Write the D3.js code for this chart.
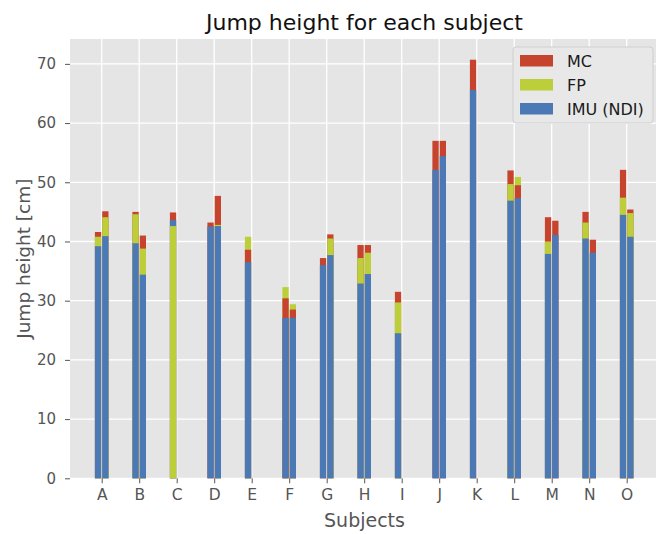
<!DOCTYPE html>
<html>
<head>
<meta charset="utf-8">
<script src="https://cdn.jsdelivr.net/npm/d3@7"></script>
<style>
  html, body { margin: 0; padding: 0; background: #ffffff; }
  svg { display: block; font-family: "DejaVu Sans", sans-serif; }
</style>
</head>
<body>
<svg id="chart" width="656" height="534"></svg>
<script>
// ---- data ----
const subjects = ["A","B","C","D","E","F","G","H","I","J","K","L","M","N","O"];
// trial 1 (left bar)
const imu1 = [39.2, 39.7, 43.6, 42.5, 36.5, 27.1, 36.0, 32.9, 24.5, 52.1, 65.6, 46.9, 37.9, 40.5, 44.5];
const fp1  = [40.8, 44.6, 42.6, null, 40.8, 32.3, null, 37.2, 29.7, null, null, 49.7, 40.0, 43.2, 47.4];
const mc1  = [41.6, 45.0, 44.9, 43.2, 38.6, 30.4, 37.2, 39.4, 31.5, 57.0, 70.7, 52.0, 44.1, 45.0, 52.1];
// trial 2 (right bar)
const imu2 = [40.9, 34.4, null, 42.6, null, 27.1, 37.7, 34.5, null, 54.4, null, 47.3, 41.1, 38.1, 40.8];
const fp2  = [44.1, 38.8, null, 42.8, null, 29.4, 40.5, 38.1, null, null, null, 50.9, null, null, 44.8];
const mc2  = [45.1, 41.0, null, 47.7, null, 28.5, 41.2, 39.4, null, 57.0, null, 49.5, 43.5, 40.3, 45.4];
const yTicks = [0, 10, 20, 30, 40, 50, 60, 70];
const seriesNames = ["MC", "FP", "IMU (NDI)"];

const colors = { "MC": "#c6432e", "FP": "#bccf3a", "IMU (NDI)": "#4a79b6" };

// ---- layout ----
const svg = d3.select("#chart");
const plot = { left: 70, right: 659, top: 39, bottom: 478.3 };

const x = d3.scalePoint().domain(subjects).range([101.7, 626.7]);
const y = d3.scaleLinear().domain([0, 74.2]).range([plot.bottom, plot.top]);

// background
svg.append("rect").attr("x", plot.left).attr("y", plot.top)
  .attr("width", plot.right - plot.left).attr("height", plot.bottom - plot.top)
  .attr("fill", "#e5e5e5");

// grid
const grid = svg.append("g");
grid.selectAll("line.h").data(yTicks).enter().append("line")
  .attr("x1", plot.left).attr("x2", plot.right)
  .attr("y1", d => y(d)).attr("y2", d => y(d))
  .attr("stroke", "#ffffff").attr("stroke-width", 1.3);
grid.selectAll("line.v").data(subjects).enter().append("line")
  .attr("x1", d => x(d)).attr("x2", d => x(d))
  .attr("y1", plot.top).attr("y2", plot.bottom)
  .attr("stroke", "#ffffff").attr("stroke-width", 1.3);

// bars: each measure drawn from 0, tallest behind
const barW = 6.3;
const trials = [
  { off: -0.5 - barW, vals: { "MC": mc1, "FP": fp1, "IMU (NDI)": imu1 } },
  { off: 0.5,         vals: { "MC": mc2, "FP": fp2, "IMU (NDI)": imu2 } }
];
const barsG = svg.append("g");
subjects.forEach((s, i) => {
  trials.forEach(t => {
    const segs = seriesNames
      .map(n => ({ name: n, v: t.vals[n][i] }))
      .filter(d => d.v !== null)
      .sort((a, b) => b.v - a.v);
    barsG.selectAll(null).data(segs).enter().append("rect")
      .attr("x", x(s) + t.off)
      .attr("width", barW)
      .attr("y", d => y(d.v))
      .attr("height", d => y(0) - y(d.v))
      .attr("fill", d => colors[d.name]);
  });
});

// y axis
const yAxis = d3.axisLeft(y).tickValues(yTicks).tickSize(5).tickPadding(9);
const yg = svg.append("g").attr("transform", `translate(${plot.left},0)`).call(yAxis);
yg.select(".domain").remove();
yg.selectAll("line").attr("stroke", "#555555");
yg.selectAll("text").attr("fill", "#555555").style("font-size", "15px")
  .style("font-family", "DejaVu Sans");

// x axis
const xAxis = d3.axisBottom(x).tickSize(5).tickPadding(6);
const xg = svg.append("g").attr("transform", `translate(0,${plot.bottom})`).call(xAxis);
xg.select(".domain").remove();
xg.selectAll("line").attr("stroke", "#555555");
xg.selectAll("text").attr("fill", "#555555").style("font-size", "15.5px")
  .style("font-family", "DejaVu Sans");

// axis labels
svg.append("text").attr("x", (plot.left + plot.right) / 2).attr("y", 527)
  .attr("text-anchor", "middle").attr("fill", "#555555")
  .style("font-size", "19px").text("Subjects");
svg.append("text")
  .attr("transform", `translate(30,${(plot.top + plot.bottom) / 2}) rotate(-90)`)
  .attr("text-anchor", "middle").attr("fill", "#555555")
  .style("font-size", "18.5px").text("Jump height [cm]");

// title
svg.append("text").attr("x", (plot.left + plot.right) / 2).attr("y", 30)
  .attr("text-anchor", "middle").attr("fill", "#111111")
  .style("font-size", "22px").text("Jump height for each subject");

// legend
const lg = svg.append("g").attr("transform", "translate(513,47)");
lg.append("rect").attr("x", 0).attr("y", 0).attr("width", 140).attr("height", 76)
  .attr("rx", 3).attr("fill", "#e8e8e8").attr("stroke", "#cfcfcf").attr("stroke-width", 1);
seriesNames.forEach((n, i) => {
  const row = lg.append("g").attr("transform", `translate(0,${8 + i * 24})`);
  row.append("rect").attr("x", 7).attr("y", 0).attr("width", 33).attr("height", 11.5)
    .attr("fill", colors[n]);
  row.append("text").attr("x", 54).attr("y", 11.5).attr("fill", "#1a1a1a")
    .style("font-size", "16px").text(n);
});
</script>
</body>
</html>
